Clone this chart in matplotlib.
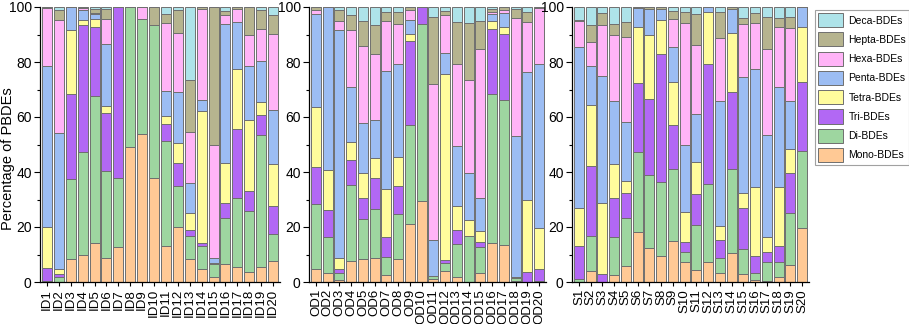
import matplotlib
matplotlib.use("Agg")
import matplotlib.pyplot as plt
from matplotlib.patches import Patch
from matplotlib.ticker import MultipleLocator

plt.rcParams['font.family'] = ['Liberation Sans', 'DejaVu Sans']

# congener groups (bottom -> top of each stack)
congeners = ['Mono-BDEs', 'Di-BDEs', 'Tri-BDEs', 'Tetra-BDEs',
             'Penta-BDEs', 'Hexa-BDEs', 'Hepta-BDEs', 'Deca-BDEs']
colors = ['#FFC995', '#9ED6A0', '#B268F4', '#FFFC9C',
          '#9CBDF3', '#FFB4F7', '#B6B48F', '#AEE3E9']

id_labels = ['ID%d' % i for i in range(1, 21)]
od_labels = ['OD%d' % i for i in range(1, 21)]
s_labels = ['S%d' % i for i in range(1, 21)]

# percentages, one row per congener group
id_pct = [
    [0, 0, 8.2, 9.7, 14.3, 8.8, 12.6, 49.2, 53.9, 37.8, 13, 20, 8.5, 4.6, 1.9, 6.7, 5.5, 3.6, 5.5, 7.6],
    [0.5, 2, 29.2, 37.7, 53.3, 31.5, 25.4, 50.8, 41.9, 55.6, 38.3, 14.8, 8.3, 8.5, 4.5, 16.6, 25, 22.4, 47.8, 10],
    [4.5, 1, 31.1, 46.2, 25.1, 21.1, 62, 0, 0, 0, 6, 8.3, 2.2, 1.1, 0.3, 5.3, 25, 7, 7.3, 9.9],
    [15, 1.8, 23.3, 1.6, 2.8, 2.7, 0, 0, 0, 0, 3.2, 7.3, 6, 48.1, 0.3, 14.6, 21.8, 25.8, 4.9, 15.5],
    [58.7, 49.3, 8.1, 3.6, 2, 22.3, 0, 0, 0, 0, 9.1, 18.7, 11.1, 3.8, 1.6, 50.8, 17.2, 19.6, 14.7, 19.7],
    [20.8, 41.3, 0, 0.8, 0.4, 9.4, 0, 0, 4.2, 0, 24.7, 21.6, 18.5, 33.3, 41.3, 3.2, 4.6, 11.5, 11.9, 27.6],
    [0.5, 3.6, 0.1, 0.4, 1.5, 3.4, 0, 0, 0, 6.6, 3.3, 8.1, 18.9, 0.6, 50.1, 1.2, 0.9, 10.1, 6.9, 6.7],
    [0, 1, 0, 0, 0.6, 0.8, 0, 0, 0, 0, 2.4, 1.2, 26.5, 0, 0, 1.6, 0, 0, 1, 3],
]
od_pct = [
    [4.6, 3.4, 0.6, 7.7, 8.3, 8.9, 2.6, 8.3, 21, 29.5, 1, 4, 1.8, 0, 3.4, 14.3, 13.5, 0.4, 0, 0],
    [23.7, 13, 2.8, 27.7, 14.5, 17.8, 6.5, 16.6, 36.2, 64.4, 1.2, 2.8, 11.9, 16.8, 9.4, 54.1, 52.7, 1, 0, 0.3],
    [13.7, 9.7, 1.2, 9, 7.7, 11, 7.3, 9.9, 30.6, 6.1, 0, 1.1, 5.1, 0, 1.9, 23.7, 24.1, 0, 3.7, 4.6],
    [21.5, 14.6, 4, 6.6, 9, 7.4, 17.4, 10.8, 2.5, 0, 0, 67.8, 8.9, 5.7, 3.9, 2.8, 2.4, 0.4, 26.2, 14.6],
    [34.1, 59.3, 83.1, 19.8, 18.3, 13.8, 42.9, 33.7, 5.1, 0, 13, 7.5, 21.6, 17, 11.9, 2.4, 5.1, 51.2, 46.3, 59.8],
    [1.4, 0, 3.2, 20.9, 28.2, 24.1, 18.2, 14.4, 3.4, 0, 56.9, 13.8, 30, 33.8, 54.3, 0.9, 1, 43, 18.3, 20.2],
    [1, 0, 3.9, 5.3, 8.9, 10.3, 3.3, 4.5, 1.2, 0, 24.3, 1.5, 15.2, 20.9, 10.1, 1.2, 1.2, 3.2, 3.7, 0.5],
    [0, 0, 1.2, 3, 5.1, 6.7, 1.8, 1.8, 0, 0, 3.6, 1.5, 5.5, 5.8, 5.1, 0.6, 0, 0.8, 1.8, 0],
]
s_pct = [
    [0, 4, 0, 2.4, 5.9, 18.3, 12.2, 9.5, 15, 7.1, 4.4, 7.1, 3.1, 10.5, 2.8, 0.6, 0.4, 2, 6.2, 19.5],
    [1, 12.9, 0, 13.9, 17.3, 29.1, 26.7, 26.9, 26.1, 3.7, 16.4, 28.7, 5.5, 30.6, 9.2, 2.6, 6.7, 5.1, 19, 28],
    [12.2, 25.4, 2.8, 14.3, 9, 25.1, 27.5, 46.5, 16.1, 3.6, 11.1, 43.4, 6.8, 28, 14.9, 6.1, 3.9, 5.9, 14.4, 25.1],
    [13.7, 22, 26.1, 12.2, 4.6, 20.4, 23.6, 12.5, 15.5, 11, 11.9, 19, 5.1, 21.4, 5.5, 25.3, 5.3, 21.6, 8.9, 20.3],
    [58.7, 14.3, 46, 23, 21.4, 6.9, 9.4, 4, 12.6, 24.5, 17.3, 1.8, 45.3, 8.9, 42.2, 42.8, 37, 36.3, 17.4, 7.1],
    [9.3, 8.6, 18.4, 24.2, 31, 0, 0, 0, 10.4, 44.2, 25.1, 0, 23, 0, 19.3, 16.7, 31.4, 22, 26.5, 0],
    [0.5, 6.1, 4.5, 3.9, 5.3, 0.2, 0.6, 0.6, 2.8, 4.1, 11.4, 0, 9.4, 0.6, 2.2, 3.7, 11.6, 3.1, 4, 0],
    [4.6, 6.7, 2.2, 6.1, 5.5, 0, 0, 0, 1.5, 1.8, 2.4, 0, 1.8, 0, 3.9, 2.2, 3.7, 4, 3.6, 0],
]

W, H = 909, 324
fig = plt.figure(figsize=(W / 100, H / 100), dpi=100)

bottom_px, top_px = 282, 7
panels = [
    (40, 240, id_labels, id_pct),
    (309, 237, od_labels, od_pct),
    (572, 237, s_labels, s_pct),
]

for i, (left, width, labels, pct) in enumerate(panels):
    ax = fig.add_axes([left / W, 1 - bottom_px / H, width / W, (bottom_px - top_px) / H])
    x = list(range(1, len(labels) + 1))
    base = [0] * len(labels)
    for vals, c in zip(pct, colors):
        ax.bar(x, vals, 0.84, bottom=base, color=c, edgecolor='#6f6f6f', linewidth=0.7)
        base = [b + v for b, v in zip(base, vals)]
    ax.set_xlim(0.41, 20.59)
    ax.set_ylim(0, 100)
    ax.set_xticks(x)
    ax.set_xticklabels(labels, rotation=90, fontsize=9.5)
    ax.yaxis.set_major_locator(MultipleLocator(20))
    ax.yaxis.set_minor_locator(MultipleLocator(10))
    ax.tick_params(axis='y', which='major', direction='out', length=4, width=0.8, labelsize=10, pad=2)
    ax.tick_params(axis='y', which='minor', direction='out', length=2, width=0.8)
    ax.tick_params(axis='x', direction='out', length=3, width=0.8, pad=2)
    for side in ['top', 'right']:
        ax.spines[side].set_visible(False)
    for side in ['left', 'bottom']:
        ax.spines[side].set_linewidth(0.9)
    if i == 0:
        ax.set_ylabel('Percentage of PBDEs', fontsize=10.5)
        # sits in the gap under the "100" label, like the original
        ax.yaxis.set_label_coords(-25 / width, 0.45)

handles = [Patch(facecolor=c, edgecolor='#6f6f6f', linewidth=0.7, label=n)
           for n, c in zip(congeners, colors)][::-1]
leg = fig.legend(handles=handles, loc='upper left', bbox_to_anchor=(815 / W, 1 - 10 / H),
                 fontsize=7.5, frameon=True, fancybox=False, edgecolor='#8a8a8a',
                 handlelength=2.4, handleheight=1.7, labelspacing=0.5,
                 borderpad=0.3, handletextpad=0.5, borderaxespad=0)
leg.get_frame().set_linewidth(0.8)

fig.savefig('out.png', dpi=100)
